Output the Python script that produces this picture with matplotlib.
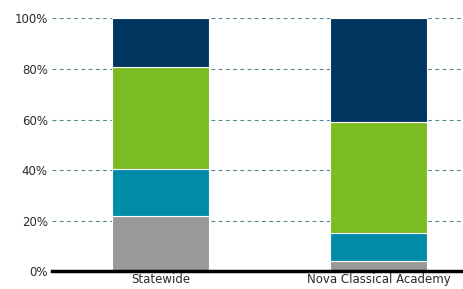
import matplotlib.pyplot as plt
from matplotlib.ticker import PercentFormatter

schools = ['Statewide', 'Nova Classical Academy']
# stacked shares (bottom to top), fractions of 1
gray_vals = [0.22, 0.04]
teal_vals = [0.185, 0.11]
green_vals = [0.405, 0.44]
navy_vals = [0.19, 0.41]

series = [gray_vals, teal_vals, green_vals, navy_vals]
colors = ['#97999b', '#008ca8', '#7abc22', '#003660']

fig = plt.figure(figsize=(4.64, 2.89), dpi=100)
ax = fig.add_axes([0.112, 0.061, 0.888, 0.875])

x = [0, 1]
bottom = [0, 0]
for vals, col in zip(series, colors):
    ax.bar(x, vals, bottom=bottom, width=0.445, color=col,
           edgecolor='white', linewidth=0.8, zorder=3)
    bottom = [b + v for b, v in zip(bottom, vals)]

ax.set_xlim(-0.5, 1.39)
ax.set_ylim(0, 1)
ax.set_yticks([0, 0.2, 0.4, 0.6, 0.8, 1.0])
ax.yaxis.set_major_formatter(PercentFormatter(1.0, decimals=0))
ax.set_xticks(x)
ax.set_xticklabels(schools)
ax.grid(axis='y', color='#5b8790', linestyle=(0, (3.5, 3)), linewidth=0.8, zorder=0)
ax.tick_params(length=0, labelsize=8.5, colors='#2b2b2b', pad=3)
ax.tick_params(axis='x', pad=1.5)

for s in ['top', 'right', 'left']:
    ax.spines[s].set_visible(False)
ax.spines['bottom'].set_linewidth(2.5)
ax.spines['bottom'].set_color('black')
ax.spines['bottom'].set_zorder(4)

plt.savefig('out.png')
